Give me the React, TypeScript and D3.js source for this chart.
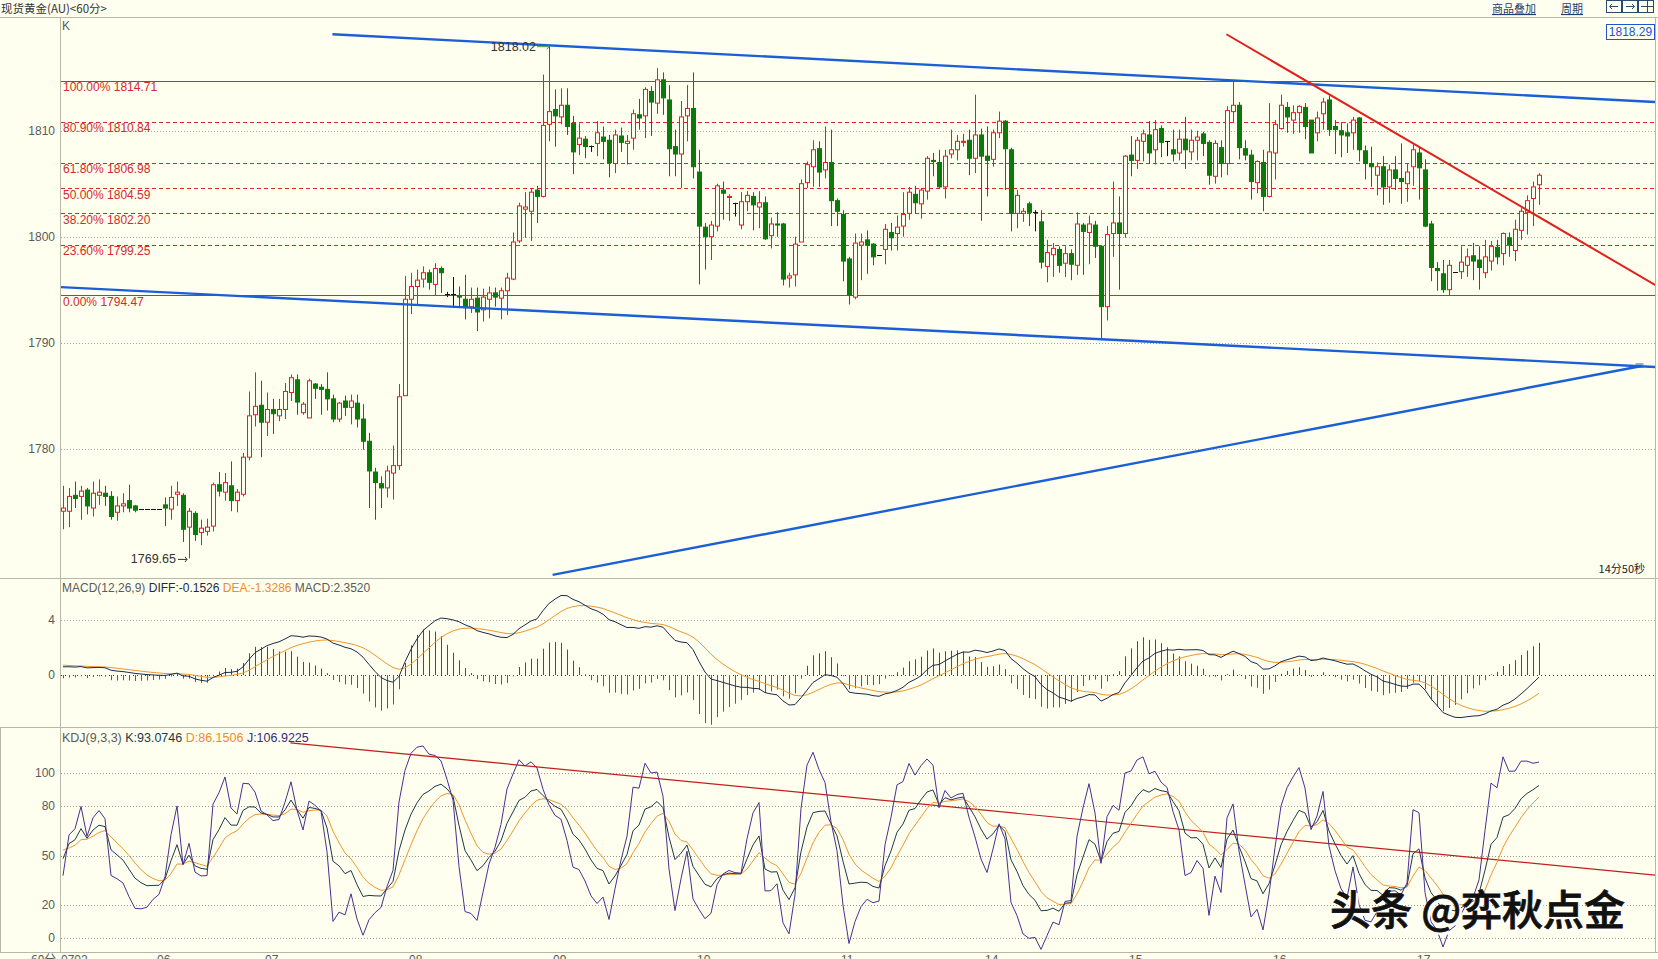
import React from 'react';
import * as d3 from 'd3';

// ---------- DATA (hourly candles) ----------
const opens = [
1774.1,1774.1,1775.6,1775.5,1776.1,1774.4,1775.6,1775.8,1775.5,1774.0,1774.6,1775.1,1774.6,1774.3,1774.3,1774.3,1774.3,1774.7,1774.3,1775.7,
1775.6,1772.6,1773.9,1772.1,1772.2,1772.7,1776.6,1775.9,1776.5,1775.1,1775.7,1779.2,1783.2,1784.1,1782.5,1783.7,1783.1,1783.7,1785.3,1786.5,
1783.4,1782.9,1786.1,1785.8,1785.6,1784.7,1782.8,1784.5,1783.9,1784.3,1782.8,1780.7,1777.8,1776.7,1776.3,1777.7,1778.4,1785.0,1794.1,1795.3,
1796.0,1796.6,1795.5,1797.0,1794.6,1794.6,1794.4,1794.1,1793.4,1794.2,1793.1,1794.1,1794.7,1794.2,1794.9,1796.0,1799.6,1802.6,1802.4,1804.4,
1803.8,1810.6,1812.0,1811.3,1812.4,1810.7,1808.7,1809.2,1808.6,1808.8,1809.4,1809.1,1806.9,1809.5,1808.8,1809.3,1811.5,1811.4,1813.7,1812.6,
1814.8,1812.9,1808.5,1807.8,1811.4,1812.1,1806.1,1800.9,1800.0,1801.0,1804.4,1803.7,1803.2,1801.1,1803.3,1803.8,1802.8,1803.2,1800.1,1801.2,
1801.2,1796.1,1796.4,1799.5,1805.1,1806.6,1808.3,1806.3,1807.0,1803.4,1802.1,1797.9,1794.3,1799.2,1799.7,1799.3,1798.3,1798.8,1800.4,1800.3,
1801.0,1802.2,1804.0,1803.1,1804.3,1807.2,1807.0,1804.7,1807.8,1808.2,1808.9,1809.1,1807.4,1809.6,1807.6,1807.3,1809.8,1810.9,1808.2,1802.2,
1802.2,1803.1,1802.3,1801.4,1797.2,1798.3,1798.8,1797.5,1798.4,1797.3,1801.1,1800.4,1801.1,1799.1,1793.4,1800.3,1801.3,1800.3,1807.7,1807.2,
1809.0,1809.6,1808.2,1810.2,1809.0,1808.2,1807.9,1809.2,1808.0,1809.1,1809.7,1808.9,1805.7,1808.4,1806.9,1811.8,1812.4,1808.3,1807.7,1805.1,
1807.0,1803.8,1807.9,1810.2,1812.2,1811.0,1811.7,1812.2,1811.0,1809.8,1811.6,1812.9,1810.4,1810.0,1809.8,1809.8,1811.2,1808.1,1806.9,1805.8,
1806.6,1804.7,1806.3,1805.5,1805.0,1806.6,1807.9,1806.3,1801.2,1797.0,1796.5,1795.0,1796.7,1796.7,1797.3,1798.2,1797.8,1796.6,1797.7,1799.0,
1798.4,1799.9,1798.7,1800.6,1802.3,1803.6,1804.9];
const highs = [
1776.5,1776.3,1776.9,1776.5,1776.3,1776.9,1777.1,1776.5,1776.0,1775.5,1775.8,1776.6,1774.7,1774.3,1774.3,1774.3,1774.3,1775.4,1776.5,1776.9,
1775.8,1774.4,1774.1,1773.3,1773.4,1776.8,1777.8,1777.7,1778.8,1776.2,1779.6,1785.4,1787.2,1786.4,1785.3,1784.7,1784.7,1786.2,1787.0,1787.0,
1784.4,1786.6,1786.2,1786.1,1787.2,1785.1,1784.4,1785.0,1785.1,1785.1,1784.2,1781.5,1778.2,1777.4,1778.4,1780.3,1786.1,1796.3,1796.6,1796.9,
1797.2,1796.9,1797.5,1797.2,1794.8,1796.2,1795.3,1796.4,1795.2,1795.2,1795.1,1795.3,1795.2,1795.2,1796.6,1800.4,1803.2,1804.2,1804.6,1804.8,
1815.3,1818.02,1813.9,1814.0,1814.0,1811.4,1810.7,1809.5,1808.6,1810.9,1810.4,1809.6,1810.1,1810.3,1809.6,1812.0,1813.0,1814.1,1814.2,1815.9,
1815.5,1814.3,1810.1,1812.8,1814.3,1815.5,1808.2,1801.3,1801.5,1805.0,1805.2,1804.0,1803.2,1804.2,1804.3,1804.2,1804.3,1803.8,1801.8,1802.3,
1801.3,1796.6,1800.0,1805.4,1807.1,1809.1,1809.0,1810.4,1810.1,1803.6,1802.5,1798.1,1800.3,1800.3,1800.6,1799.4,1798.3,1801.2,1801.3,1802.0,
1804.2,1804.7,1804.8,1804.6,1807.6,1807.9,1808.2,1808.2,1810.1,1809.6,1809.7,1810.1,1813.4,1810.2,1810.4,1810.1,1811.8,1811.0,1808.4,1804.4,
1802.7,1803.3,1802.5,1802.5,1799.7,1799.4,1799.1,1799.1,1798.8,1802.3,1801.3,1802.0,1801.5,1799.2,1801.0,1805.2,1803.8,1807.7,1809.5,1809.4,
1810.1,1810.9,1811.0,1810.5,1809.0,1810.1,1810.1,1811.3,1810.1,1810.0,1809.9,1809.1,1809.1,1809.1,1812.3,1814.7,1812.7,1809.1,1808.2,1807.2,
1808.2,1812.6,1811.0,1813.4,1812.7,1812.4,1812.4,1812.6,1811.0,1811.8,1813.1,1813.3,1811.0,1810.8,1810.7,1811.3,1811.3,1808.6,1808.5,1807.0,
1807.6,1806.8,1807.6,1808.8,1806.9,1808.7,1808.4,1807.3,1801.5,1797.6,1797.8,1797.8,1796.7,1799.1,1798.9,1799.4,1799.1,1799.7,1799.6,1799.7,
1800.4,1800.4,1801.6,1802.7,1803.9,1805.2,1806.0];
const lows = [
1772.4,1772.6,1774.4,1773.3,1773.8,1773.6,1774.7,1774.6,1773.3,1773.2,1774.0,1774.0,1774.0,1774.3,1774.3,1774.3,1774.3,1772.7,1773.3,1774.6,
1771.2,1769.65,1771.3,1770.9,1771.8,1772.2,1775.5,1775.1,1774.1,1774.0,1775.5,1778.9,1782.1,1779.2,1781.2,1781.4,1782.6,1782.8,1784.5,1783.2,
1783.2,1782.9,1784.7,1783.2,1783.6,1782.5,1782.5,1783.1,1782.3,1782.0,1779.9,1774.4,1773.3,1774.4,1775.4,1775.2,1778.0,1785.0,1792.7,1793.6,
1795.2,1795.0,1794.5,1794.7,1794.3,1793.3,1793.4,1792.2,1792.8,1791.1,1792.0,1792.3,1793.4,1792.2,1792.6,1795.9,1799.4,1799.9,1799.6,1801.3,
1803.7,1809.0,1808.5,1810.6,1809.6,1805.9,1807.7,1807.4,1808.0,1807.6,1807.3,1805.6,1806.0,1808.0,1806.8,1808.2,1810.1,1809.3,1809.5,1811.6,
1811.5,1805.7,1805.7,1804.6,1809.0,1805.5,1795.5,1796.9,1797.8,1800.5,1801.6,1801.5,1801.9,1800.7,1802.4,1800.6,1800.8,1799.7,1798.9,1800.0,
1795.4,1795.2,1795.3,1799.5,1804.6,1804.7,1804.7,1805.5,1801.0,1801.0,1795.8,1793.6,1794.1,1795.9,1796.5,1797.3,1798.3,1797.4,1798.7,1798.7,
1800.0,1801.6,1802.2,1801.7,1803.5,1805.7,1804.6,1803.6,1807.4,1807.2,1808.5,1805.8,1806.0,1801.5,1803.8,1806.6,1809.3,1804.4,1800.5,1800.8,
1801.4,1801.0,1800.5,1797.0,1795.7,1796.2,1796.6,1796.2,1795.9,1796.4,1796.4,1797.4,1798.0,1790.3,1792.1,1798.1,1795.0,1799.9,1805.7,1806.4,
1807.1,1806.9,1806.8,1807.5,1807.6,1807.1,1807.2,1806.4,1807.2,1807.2,1807.6,1804.9,1805.0,1805.6,1805.8,1810.8,1807.3,1807.2,1803.5,1804.1,
1802.4,1803.7,1805.4,1810.1,1809.8,1809.7,1809.8,1809.2,1807.9,1809.0,1810.1,1809.5,1807.8,1807.5,1807.9,1808.2,1807.1,1805.4,1804.7,1803.9,
1803.0,1803.2,1804.4,1803.1,1803.3,1804.8,1803.5,1800.9,1795.8,1794.9,1794.7,1794.5,1796.7,1796.0,1796.2,1795.9,1795.0,1796.1,1796.8,1797.4,
1797.3,1798.1,1797.7,1799.7,1800.2,1801.0,1803.0];
const closes = [
1774.4,1775.5,1775.3,1776.0,1774.6,1775.8,1775.9,1775.5,1773.6,1774.6,1774.8,1774.4,1774.2,1774.3,1774.3,1774.3,1774.3,1774.4,1775.4,1775.9,
1772.4,1774.1,1771.9,1772.5,1772.6,1776.6,1776.0,1776.8,1775.1,1775.9,1779.2,1783.1,1784.0,1782.5,1783.7,1783.3,1783.7,1785.4,1786.7,1784.4,
1784.2,1786.4,1785.7,1785.6,1784.7,1782.8,1784.3,1783.9,1784.5,1782.8,1780.7,1777.9,1776.8,1776.3,1777.9,1778.4,1784.9,1794.1,1795.3,1795.9,
1796.6,1795.7,1797.0,1796.6,1794.6,1794.6,1794.3,1793.4,1794.1,1792.9,1794.3,1794.7,1794.3,1794.9,1796.1,1799.5,1802.9,1802.8,1804.2,1803.8,
1810.5,1811.8,1811.4,1812.4,1810.4,1808.0,1809.3,1808.5,1808.6,1809.8,1809.0,1807.0,1809.6,1808.9,1809.0,1811.6,1811.2,1813.9,1812.7,1814.8,
1813.1,1808.3,1807.8,1811.3,1812.1,1806.6,1801.0,1800.0,1801.1,1804.8,1804.1,1803.8,1803.2,1803.3,1803.9,1803.0,1803.2,1799.8,1801.2,1801.1,
1796.0,1796.3,1799.3,1805.0,1806.8,1808.2,1806.1,1807.0,1803.4,1802.4,1797.7,1794.5,1799.4,1799.5,1799.2,1798.1,1798.3,1800.7,1799.9,1800.9,
1802.1,1804.2,1803.2,1804.4,1807.4,1807.1,1804.7,1807.6,1808.2,1809.0,1809.0,1807.4,1809.6,1807.6,1807.2,1809.8,1810.9,1808.3,1802.2,1803.9,
1802.4,1802.3,1802.3,1797.6,1798.5,1798.9,1797.3,1798.4,1797.4,1801.2,1800.5,1801.2,1799.1,1793.4,1800.2,1801.3,1800.3,1807.6,1807.2,1809.1,
1809.7,1807.9,1810.1,1808.9,1809.0,1807.8,1809.2,1808.2,1809.1,1809.4,1808.8,1805.8,1808.8,1806.9,1811.9,1812.4,1808.4,1807.7,1805.2,1807.1,
1803.8,1808.0,1810.6,1812.4,1811.3,1811.7,1812.3,1810.4,1807.9,1811.2,1812.7,1810.1,1810.1,1809.6,1809.5,1811.0,1808.2,1806.9,1806.6,1806.6,
1804.7,1806.3,1805.5,1805.2,1806.1,1808.2,1806.5,1801.0,1797.1,1796.8,1795.0,1797.3,1796.7,1797.6,1798.1,1797.7,1797.1,1798.1,1799.1,1798.1,
1800.3,1799.2,1800.7,1802.4,1803.4,1804.7,1805.8];

// day separators: label + bar index where the trading day starts
const dayLabels = ['0702', '06', '07', '08', '09', '10', '11', '14', '15', '16', '17'];
const dayStartBars = [0, 16, 34, 58, 82, 106, 130, 154, 178, 202, 226];

const priceTicks = [1780, 1790, 1800, 1810];
const macdTicks = [4, 0];
const kdjTicks = [100, 80, 50, 20, 0];

// Fibonacci retracement levels drawn on the chart
const fibPercents = ['100.00%', '80.90%', '61.80%', '50.00%', '38.20%', '23.60%', '0.00%'];
const fibPrices = [1814.71, 1810.84, 1806.98, 1804.59, 1802.20, 1799.25, 1794.47];

// hand-drawn trend lines: [barIndex, price] endpoints
const blueTrendLines: [number, number][][] = [
  [[44.9, 1819.1], [265.8, 1812.7]],
  [[-0.5, 1795.25], [265.8, 1787.7]],
  [[81.6, 1768.1], [263.1, 1787.8]],
];
const redTrendLine: [number, number][] = [[193.9, 1819.1], [265.8, 1795.3]];
const kdjTrendLine: [number, number][] = [[37.9, 118.4], [265.8, 38.1]];

// indicator parameters and the state carried in from before the first visible bar
const MACD_SEED_EMA12 = 1775.0;
const MACD_SEED_EMA26 = 1774.3;
const MACD_SEED_DEA = 0.75;
const KDJ_SEED_K = 48;
const KDJ_SEED_D = 56;

const macdHeader = { name: 'MACD(12,26,9)', diff: 'DIFF:-0.1526', dea: 'DEA:-1.3286', macd: 'MACD:2.3520' };
const kdjHeader = { name: 'KDJ(9,3,3)', k: 'K:93.0746', d: 'D:86.1506', j: 'J:106.9225' };

// ---------- indicators (standard definitions applied to the candle data) ----------
function macdOf(c: number[]) {
  let e12 = MACD_SEED_EMA12, e26 = MACD_SEED_EMA26, dea = MACD_SEED_DEA;
  const diff: number[] = [], deaA: number[] = [], hist: number[] = [];
  c.forEach((v) => {
    e12 = (e12 * 11 + v * 2) / 13;
    e26 = (e26 * 25 + v * 2) / 27;
    const d = e12 - e26;
    dea = (dea * 8 + d * 2) / 10;
    diff.push(d); deaA.push(dea); hist.push(2 * (d - dea));
  });
  return { diff, dea: deaA, hist };
}
function kdjOf(h: number[], l: number[], c: number[]) {
  let K = KDJ_SEED_K, D = KDJ_SEED_D;
  const ks: number[] = [], ds: number[] = [], js: number[] = [];
  c.forEach((v, i) => {
    const s = Math.max(0, i - 8);
    const hi = d3.max(h.slice(s, i + 1)) as number;
    const lo = d3.min(l.slice(s, i + 1)) as number;
    const rsv = hi === lo ? 50 : ((v - lo) / (hi - lo)) * 100;
    K = (2 * K + rsv) / 3;
    D = (2 * D + K) / 3;
    ks.push(K); ds.push(D); js.push(3 * K - 2 * D);
  });
  return { k: ks, d: ds, j: js };
}

// ---------- layout ----------
const W = 1658, H = 959;
const LEFT = 60, RIGHT = 1655;
const MAIN_TOP = 17, MAIN_BOT = 578, MACD_BOT = 727, KDJ_BOT = 952;

const BG = '#FFFFEF';
const RED = '#E0201C';
const GREEN = '#0B7A0B';
const BLUE = '#1A5FD6';
const GRID = '#B8B8A8';
const AXIS_TXT = '#5A5A5A';
const FONT = '"Liberation Sans", Arial, sans-serif';
const CJK = '"Noto Sans CJK SC", "Noto Sans", sans-serif';

export default function App() {
  const n = closes.length;
  const x = d3.scaleLinear().domain([0, n - 1]).range([63, 63 + 6 * (n - 1)]);
  const y = d3.scaleLinear().domain([1800, 1810]).range([236.7, 130.7]);
  const ym = d3.scaleLinear().domain([0, 4]).range([675, 620.3]);
  const yk = d3.scaleLinear().domain([0, 100]).range([938.3, 773.3]);

  const macd = macdOf(closes);
  const kdj = kdjOf(highs, lows, closes);

  const lineM = (arr: number[]) => d3.line<number>().x((_, i) => x(i)).y((v) => ym(v))(arr) || '';
  const lineK = (arr: number[]) => d3.line<number>().x((_, i) => x(i)).y((v) => yk(v))(arr) || '';
  const seg = (pts: [number, number][], sy: d3.ScaleLinear<number, number>) =>
    d3.line<[number, number]>().x((p) => x(p[0])).y((p) => sy(p[1]))(pts) || '';

  const candles = closes.map((c, i) => {
    const o = opens[i];
    const cx = Math.round(x(i));
    const color = c > o ? RED : c < o ? GREEN : '#111';
    const top = y(Math.max(o, c));
    const bot = y(Math.min(o, c));
    const hgt = Math.max(1, bot - top);
    return (
      <g key={i}>
        <line x1={cx + 0.5} x2={cx + 0.5} y1={y(highs[i])} y2={y(lows[i])} stroke={color} strokeWidth={1} />
        {c === o ? (
          <line x1={cx - 2} x2={cx + 3} y1={Math.round(top) + 0.5} y2={Math.round(top) + 0.5} stroke={color} strokeWidth={1} />
        ) : (
          <rect x={cx - 1.5} y={top} width={4} height={hgt} fill={c > o ? BG : GREEN} stroke={color} strokeWidth={1} />
        )}
      </g>
    );
  });

  const hiX = x(81), hiY = y(highs[81]);
  const loX = x(21), loY = y(lows[21]);

  return (
    <div style={{ position: 'fixed', left: 0, top: 0, width: W, height: H, background: BG, overflow: 'hidden' }}>
      <svg width={W} height={H} style={{ display: 'block' }}>
        <defs>
          <clipPath id="cMain"><rect x={LEFT + 1} y={MAIN_TOP + 1} width={RIGHT - LEFT - 1} height={MAIN_BOT - MAIN_TOP - 1} /></clipPath>
          <clipPath id="cMacd"><rect x={LEFT + 1} y={MAIN_BOT + 1} width={RIGHT - LEFT - 1} height={MACD_BOT - MAIN_BOT - 1} /></clipPath>
          <clipPath id="cKdj"><rect x={LEFT + 1} y={MACD_BOT + 1} width={RIGHT - LEFT - 1} height={KDJ_BOT - MACD_BOT - 1} /></clipPath>
        </defs>
        <rect x={0} y={0} width={W} height={H} fill={BG} />

        {/* header bar */}
        <text x={1} y={13} fontFamily={CJK} fontSize={11.5} fill="#333">现货黄金(AU)&lt;60分&gt;</text>
        <text x={1492} y={13} fontFamily={CJK} fontSize={11} fill="#1F3F6A" textDecoration="underline">商品叠加</text>
        <text x={1561} y={13} fontFamily={CJK} fontSize={11} fill="#1F3F6A" textDecoration="underline">周期</text>
        {[0, 1, 2].map((b) => (
          <rect key={b} x={1606.5 + b * 16} y={0.5} width={15} height={12} fill="none" stroke="#2A4A6A" />
        ))}
        <path d="M1618,6.5 H1610 M1612,4 L1609.5,6.5 L1612,9" stroke="#2A4A6A" fill="none" />
        <path d="M1626,6.5 H1634 M1632,4 L1634.5,6.5 L1632,9" stroke="#2A4A6A" fill="none" />
        <path d="M1641,6.5 H1653 M1647.5,1 V12" stroke="#2A4A6A" fill="none" />
        <line x1={0} x2={W} y1={MAIN_TOP + 0.5} y2={MAIN_TOP + 0.5} stroke={GRID} />

        {/* panel frames */}
        <line x1={LEFT + 0.5} x2={LEFT + 0.5} y1={MAIN_TOP} y2={KDJ_BOT} stroke={GRID} />
        <line x1={RIGHT + 0.5} x2={RIGHT + 0.5} y1={MAIN_TOP} y2={KDJ_BOT} stroke={GRID} />
        <line x1={0} x2={W} y1={MAIN_BOT + 0.5} y2={MAIN_BOT + 0.5} stroke={GRID} />
        <line x1={0} x2={W} y1={MACD_BOT + 0.5} y2={MACD_BOT + 0.5} stroke={GRID} />
        <line x1={0} x2={W} y1={KDJ_BOT + 0.5} y2={KDJ_BOT + 0.5} stroke={GRID} />
        <line x1={0.5} x2={0.5} y1={MACD_BOT} y2={KDJ_BOT} stroke={GRID} />

        {/* ---------- main panel ---------- */}
        <text x={62} y={30} fontFamily={FONT} fontSize={12} fill={AXIS_TXT}>K</text>
        {priceTicks.map((t) => (
          <g key={t}>
            <line x1={LEFT + 1} x2={RIGHT} y1={Math.round(y(t)) + 0.5} y2={Math.round(y(t)) + 0.5} stroke="#A8A8A0" strokeDasharray="1,2" />
            <text x={55} y={y(t) + 4} textAnchor="end" fontFamily={FONT} fontSize={12} fill={AXIS_TXT}>{t}</text>
          </g>
        ))}
        <g clipPath="url(#cMain)">
          {fibPrices.map((p, i) => (
            <g key={p}>
              <line x1={LEFT + 1} x2={RIGHT} y1={Math.round(y(p)) + 0.5} y2={Math.round(y(p)) + 0.5}
                stroke="#D42A2A" strokeWidth={1} strokeDasharray={i === 0 || i === fibPrices.length - 1 ? undefined : '4,3'} />
              <text x={63} y={y(p) + 10.5} fontFamily={FONT} fontSize={12} fill="#D42A2A">{fibPercents[i]} {p.toFixed(2)}</text>
            </g>
          ))}
          {candles}
          {blueTrendLines.map((pts, i) => (
            <path key={i} d={seg(pts, y)} stroke={BLUE} strokeWidth={2.4} fill="none" />
          ))}
          <path d={seg(redTrendLine, y)} stroke={RED} strokeWidth={2} fill="none" />
          <path d={`M${x(blueTrendLines[2][1][0]) - 6},${y(blueTrendLines[2][1][1]) - 2} l8,0 M${x(blueTrendLines[2][1][0]) - 6},${y(blueTrendLines[2][1][1]) + 1} l8,0`} stroke={BLUE} strokeWidth={1} />
          {/* extreme labels */}
          <text x={hiX - 13} y={hiY + 5} textAnchor="end" fontFamily={FONT} fontSize={12.5} fill="#333">1818.02</text>
          <path d={`M${hiX - 12},${hiY + 1} H${hiX} M${hiX - 2},${hiY - 1.5} L${hiX},${hiY + 1} L${hiX - 2},${hiY + 3.5}`} stroke="#4A9A4A" fill="none" />
          <text x={loX - 13} y={loY + 5} textAnchor="end" fontFamily={FONT} fontSize={12.5} fill="#333">1769.65</text>
          <path d={`M${loX - 11},${loY + 1} H${loX - 2} M${loX - 4},${loY - 1.5} L${loX - 2},${loY + 1} L${loX - 4},${loY + 3.5}`} stroke="#333" fill="none" />
        </g>
        <rect x={1606.5} y={24.5} width={48} height={15} fill={BG} stroke="#2255CC" />
        <text x={1630.5} y={36} textAnchor="middle" fontFamily={FONT} fontSize={12} fill="#2255CC">1818.29</text>
        <text x={1645} y={573} textAnchor="end" fontFamily={CJK} fontSize={11} fill="#222">14分50秒</text>

        {/* ---------- MACD panel ---------- */}
        <text x={62} y={592} fontFamily={FONT} fontSize={12}>
          <tspan fill={AXIS_TXT}>{macdHeader.name} </tspan>
          <tspan fill="#1B2A4A">{macdHeader.diff} </tspan>
          <tspan fill="#F08A24">{macdHeader.dea} </tspan>
          <tspan fill={AXIS_TXT}>{macdHeader.macd}</tspan>
        </text>
        {macdTicks.map((t) => (
          <g key={t}>
            <line x1={LEFT + 1} x2={RIGHT} y1={Math.round(ym(t)) + 0.5} y2={Math.round(ym(t)) + 0.5}
              stroke={t === 0 ? '#333' : '#A8A8A0'} strokeDasharray={t === 0 ? '1,3' : '1,2'} />
            <text x={55} y={ym(t) + 4} textAnchor="end" fontFamily={FONT} fontSize={12} fill={AXIS_TXT}>{t}</text>
          </g>
        ))}
        <g clipPath="url(#cMacd)">
          {macd.hist.map((h, i) => (
            <line key={i} x1={Math.round(x(i)) + 0.5} x2={Math.round(x(i)) + 0.5} y1={ym(0)} y2={ym(h)}
              stroke={h >= 0 ? '#C81818' : '#1A8A1A'} strokeWidth={1} />
          ))}
          <path d={lineM(macd.dea)} stroke="#F0962E" strokeWidth={1} fill="none" />
          <path d={lineM(macd.diff)} stroke="#1B2A4A" strokeWidth={1} fill="none" />
        </g>

        {/* ---------- KDJ panel ---------- */}
        <text x={62} y={742} fontFamily={FONT} fontSize={12.5}>
          <tspan fill={AXIS_TXT}>{kdjHeader.name} </tspan>
          <tspan fill="#1B3A4A">{kdjHeader.k} </tspan>
          <tspan fill="#F08A24">{kdjHeader.d} </tspan>
          <tspan fill="#3A2A7A">{kdjHeader.j}</tspan>
        </text>
        {kdjTicks.map((t) => (
          <g key={t}>
            <line x1={LEFT + 1} x2={RIGHT} y1={Math.round(yk(t)) + 0.5} y2={Math.round(yk(t)) + 0.5} stroke="#9A9A90" strokeDasharray="1,2" />
            <text x={55} y={yk(t) + 4} textAnchor="end" fontFamily={FONT} fontSize={12} fill={AXIS_TXT}>{t}</text>
          </g>
        ))}
        <g clipPath="url(#cKdj)">
          <path d={seg(kdjTrendLine, yk)} stroke="#C0201C" strokeWidth={1.2} fill="none" />
          <path d={lineK(kdj.d)} stroke="#F0962E" strokeWidth={1} fill="none" />
          <path d={lineK(kdj.k)} stroke="#1B3A4A" strokeWidth={1} fill="none" />
          <path d={lineK(kdj.j)} stroke="#4B2E92" strokeWidth={1} fill="none" />
        </g>

        {/* watermark */}
        <text x={1333} y={928} fontFamily={CJK} fontSize={41} fontWeight={500} fill="#FFFFFF">头条 @弈秋点金</text>
        <text x={1330} y={925} fontFamily={CJK} fontSize={41} fontWeight={500} fill="#111" stroke="#111" strokeWidth={0.8}>头条 @弈秋点金</text>

        {/* date axis (cut off at the bottom of the window, as in the source) */}
        <text x={31} y={964} fontFamily={CJK} fontSize={12} fill={AXIS_TXT}>60分</text>
        {dayLabels.map((d, i) => (
          <text key={d} x={x(dayStartBars[i]) - 2} y={964} fontFamily={FONT} fontSize={12} fill={AXIS_TXT}>{d}</text>
        ))}
      </svg>
    </div>
  );
}
